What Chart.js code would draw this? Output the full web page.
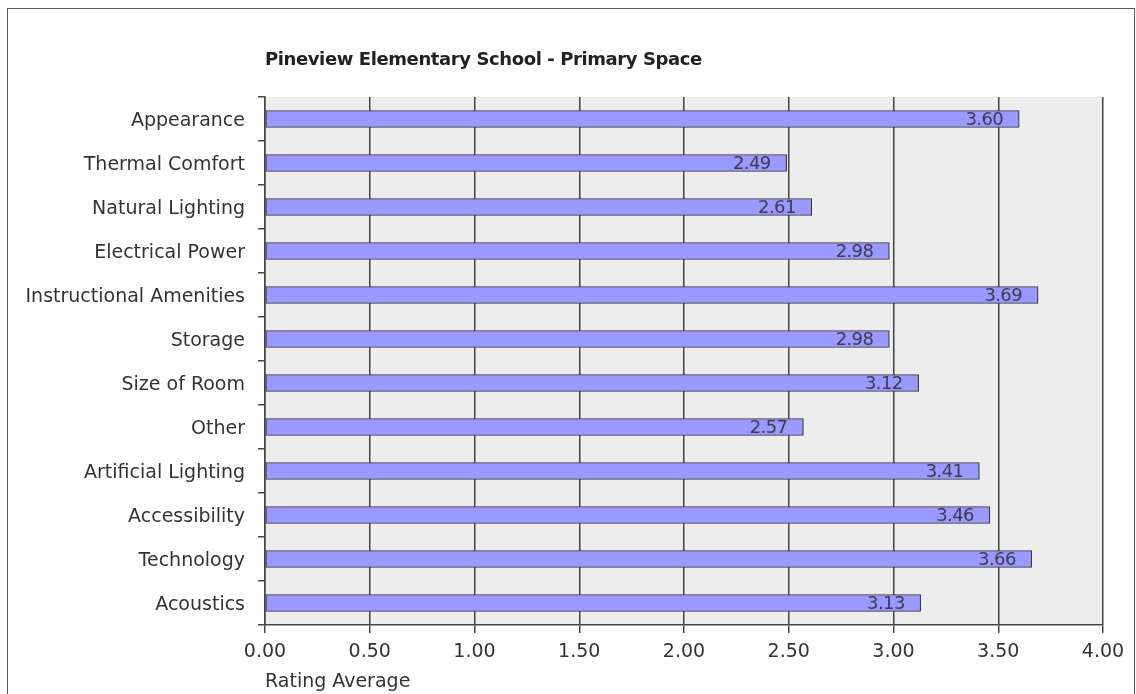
<!DOCTYPE html>
<html>
<head>
<meta charset="utf-8">
<script src="https://cdn.jsdelivr.net/npm/chart.js@4/dist/chart.umd.min.js"></script>
<style>
  html, body { margin: 0; padding: 0; background: #fff; }
  #wrap { width: 1136px; height: 694px; }
</style>
</head>
<body>
<div id="wrap"><canvas id="ratingChart" width="1136" height="694"></canvas></div>
<script>
const categories = [
  "Appearance", "Thermal Comfort", "Natural Lighting", "Electrical Power",
  "Instructional Amenities", "Storage", "Size of Room", "Other",
  "Artificial Lighting", "Accessibility", "Technology", "Acoustics"
];
const ratings = [3.60, 2.49, 2.61, 2.98, 3.69, 2.98, 3.12, 2.57, 3.41, 3.46, 3.66, 3.13];
const xTicks = [0, 0.5, 1, 1.5, 2, 2.5, 3, 3.5, 4];

const chartTitle = "Pineview Elementary School - Primary Space";
const axisTitle = "Rating Average";

const ctx = document.getElementById("ratingChart").getContext("2d");

// fondo gris del area + marco exterior + titulo
const framePlugin = {
  id: "frame",
  beforeDraw: (chart) => {
    const c = chart.ctx;
    const a = chart.chartArea;
    c.save();
    c.fillStyle = "#ffffff";
    c.fillRect(0, 0, chart.width, chart.height);
    c.strokeStyle = "#5a5a5a";
    c.lineWidth = 1;
    c.strokeRect(7.5, 8.5, 1127, 700);
    c.fillStyle = "#ededed";
    c.fillRect(a.left, a.top, a.right - a.left, a.bottom - a.top);
    c.font = "bold 18px 'DejaVu Sans', sans-serif";
    c.letterSpacing = "-0.4px";
    c.fillStyle = "#222";
    c.textBaseline = "middle";
    c.textAlign = "left";
    c.fillText(chartTitle, 265, 60);
    c.restore();
  }
};

// etiquetas de valor dentro de la barra
const valueLabels = {
  id: "valueLabels",
  afterDatasetsDraw: (chart) => {
    const c = chart.ctx;
    const meta = chart.getDatasetMeta(0);
    c.save();
    c.font = "18px 'DejaVu Sans', sans-serif";
    c.letterSpacing = "-0.6px";
    c.fillStyle = "#3c3c4c";
    c.textAlign = "right";
    c.textBaseline = "middle";
    meta.data.forEach((bar, i) => {
      c.fillText(ratings[i].toFixed(2), bar.x - 16, bar.y + 1);
    });
    c.restore();
  }
};

const axisFont = { family: "'DejaVu Sans', sans-serif", size: 19 };

let ratingChart = new Chart(ctx, {
  type: "bar",
  data: {
    labels: categories,
    datasets: [{
      data: ratings,
      backgroundColor: "#9999ff",
      borderColor: "#3a3a3a",
      borderWidth: 1.2,
      borderSkipped: false,
      barThickness: 17
    }]
  },
  options: {
    indexAxis: "y",
    responsive: false,
    animation: false,
    layout: { padding: { left: 0, top: 97, right: 33, bottom: 0 } },
    plugins: {
      legend: { display: false },
      title: { display: false },
      tooltip: { enabled: false }
    },
    scales: {
      x: {
        min: 0,
        max: 4,
        afterBuildTicks: (scale) => {
          scale.ticks = xTicks.map(v => ({ value: v }));
        },
        afterFit: (scale) => { scale.height = 69; },
        grid: {
          color: "#444",
          lineWidth: 1.5,
          tickLength: 8,
          tickColor: "#444"
        },
        border: { color: "#444", width: 1.5 },
        ticks: {
          padding: 8,
          color: "#333",
          font: axisFont,
          callback: (v) => Number(v).toFixed(2)
        },
        title: {
          display: true,
          text: axisTitle,
          align: "start",
          color: "#333",
          font: axisFont,
          padding: { top: 0, bottom: 1 }
        }
      },
      y: {
        afterFit: (scale) => { scale.width = 265; },
        grid: {
          offset: true,
          drawOnChartArea: false,
          tickLength: 7,
          tickColor: "#444",
          lineWidth: 1.5
        },
        border: { color: "#444", width: 1.5 },
        ticks: {
          padding: 13,
          labelOffset: 2,
          color: "#333",
          font: axisFont
        }
      }
    }
  },
  plugins: [framePlugin, valueLabels]
});
</script>
</body>
</html>
